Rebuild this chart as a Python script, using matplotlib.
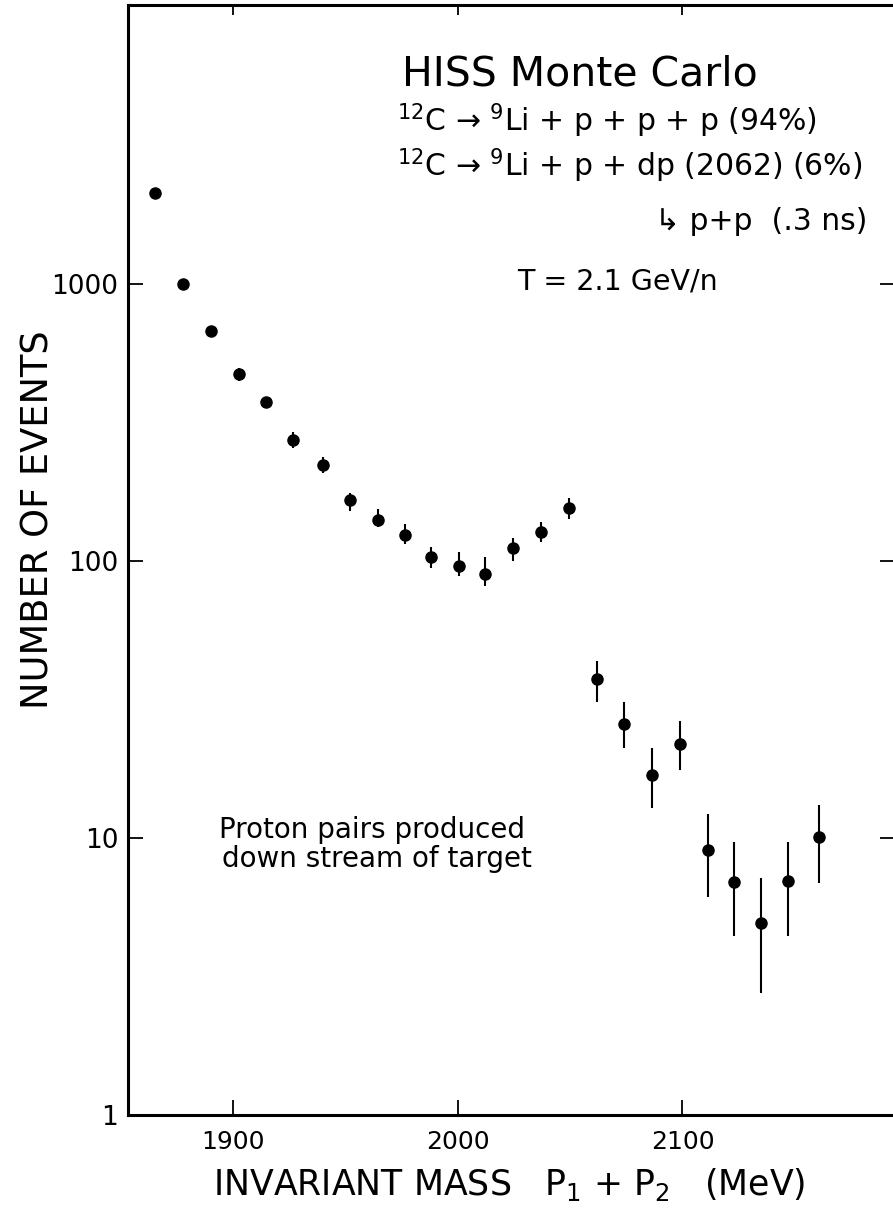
import matplotlib
matplotlib.use('Agg')
import matplotlib.pyplot as plt
from matplotlib.ticker import NullLocator
import numpy as np

# invariant mass of the proton pair, bin centres (MeV)
mass = [1865.5, 1878, 1890.5, 1903, 1915, 1927, 1940, 1952, 1964.5, 1976.5,
        1988, 2000.5, 2012, 2024.5, 2037, 2049.5,
        2062, 2074, 2086.5, 2099, 2111.5, 2123, 2135, 2147, 2160.5]
# number of events per bin
events = [2125, 1000, 676, 473, 374, 273, 222, 166, 141, 124,
          103, 96, 90, 111, 127, 156,
          37.4, 25.9, 16.9, 21.8, 9.05, 6.94, 4.92, 7.0, 10.06]
# top and bottom ends of the error bars
err_hi = [2170, 1030, 700, 496, 392, 293, 238, 175.5, 153.7, 135.7,
          112.1, 107.8, 103.1, 121.4, 138.7, 168.4,
          43.6, 30.9, 21.1, 26.5, 12.2, 9.7, 7.2, 9.7, 13.2]
err_lo = [2080, 970, 652, 448, 356, 256.6, 207, 151.9, 133, 114.9,
          94.1, 88.3, 81.4, 100.3, 117.1, 141.4,
          31.1, 21.2, 12.8, 17.6, 6.1, 4.43, 2.75, 4.43, 6.9]

xticks = [1900, 2000, 2100]
yticks = [1, 10, 100, 1000]
ytick_labels = ['1', '10', '100', '1000']

W, H = 893, 1209
fig = plt.figure(figsize=(W / 100, H / 100), dpi=100)
# axes box placed from the pixel frame of the scan
ax = fig.add_axes([128 / W, 1 - 1115 / H, (895 - 128) / W, (1115 - 5) / H])

ev = np.array(events)
yerr = [ev - np.array(err_lo), np.array(err_hi) - ev]
ax.errorbar(mass, events, yerr=yerr, fmt='o', color='black', ms=8,
            elinewidth=1.5, capsize=0)

ax.set_yscale('log')
ax.set_xlim(1853.5, 2194.5)
ax.set_ylim(1, 10170)
ax.set_yticks(yticks)
ax.set_yticklabels(ytick_labels)
ax.set_xticks(xticks)
ax.yaxis.set_minor_locator(NullLocator())

ax.tick_params(axis='both', which='major', direction='in', top=True,
               right=True, length=11, width=1.3)
ax.tick_params(axis='y', pad=7, labelsize=19)
ax.tick_params(axis='x', pad=11, labelsize=18)
# shorter ticks on the top edge
for t in ax.xaxis.get_major_ticks():
    t.tick2line.set_markersize(7)

for s in ax.spines.values():
    s.set_linewidth(2.2)

# axis titles
fig.text(38 / W, 1 - 520 / H, 'NUMBER OF EVENTS', rotation=90, ha='center',
         va='center', fontsize=26.5)
fig.text(509 / W, 1 - 1195 / H,
         'INVARIANT MASS   P$_1$ + P$_2$   (MeV)',
         ha='center', va='baseline', fontsize=25)

# notes in the plot
fig.text(402 / W, 1 - 85 / H, 'HISS Monte Carlo', fontsize=29.5,
         va='baseline')
fig.text(397 / W, 1 - 131 / H, '$^{12}$C \u2192 $^{9}$Li + p + p + p (94%)',
         fontsize=21.5, va='baseline')
fig.text(397 / W, 1 - 176 / H,
         '$^{12}$C \u2192 $^{9}$Li + p + dp (2062) (6%)',
         fontsize=21.5, va='baseline')
fig.text(655 / W, 1 - 230 / H, '\u21b3 p+p  (.3 ns)', fontsize=21.5,
         va='baseline')
fig.text(517 / W, 1 - 290 / H, 'T = 2.1 GeV/n', fontsize=20.5, va='baseline')
fig.text(219 / W, 1 - 838 / H, 'Proton pairs produced', fontsize=20,
         va='baseline')
fig.text(222 / W, 1 - 867 / H, 'down stream of target', fontsize=20,
         va='baseline')

fig.savefig('out.png', dpi=100)
